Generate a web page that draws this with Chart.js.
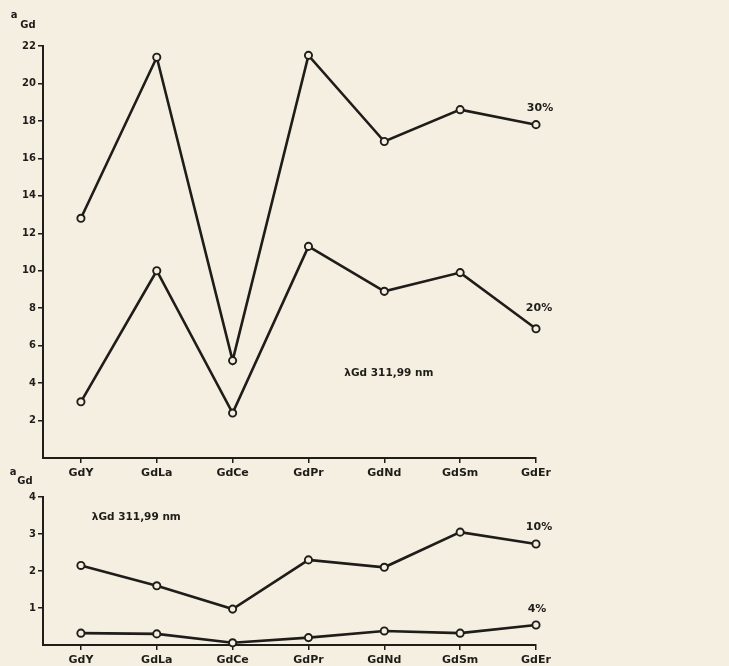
<!DOCTYPE html>
<html>
<head>
<meta charset="utf-8">
<script src="https://cdn.jsdelivr.net/npm/chart.js@4.4.1/dist/chart.umd.min.js"></script>
<style>
  html, body { margin: 0; padding: 0; background: #f4efe0; }
  #wrap { position: relative; width: 729px; height: 666px; overflow: hidden; }
  canvas { position: absolute; left: 0; }
  #chart-top { top: 0; }
  #chart-low { top: 462px; }
</style>
</head>
<body>
<div id="wrap">
  <canvas id="chart-top" width="729" height="480"></canvas>
  <canvas id="chart-low" width="729" height="204"></canvas>
</div>
<script>
// dane: a_Gd dla mieszanin Gd z pierwiastkami ziem rzadkich
const compounds = ["GdY", "GdLa", "GdCe", "GdPr", "GdNd", "GdSm", "GdEr"];
const top30 = [12.8, 21.4, 5.2, 21.5, 16.9, 18.6, 17.8];
const top20 = [3.0, 10.0, 2.4, 11.3, 8.9, 9.9, 6.9];
const low10 = [2.15, 1.6, 0.97, 2.3, 2.1, 3.05, 2.73];
const low4 = [0.32, 0.3, 0.06, 0.2, 0.38, 0.32, 0.54];
const topTicks = [2, 4, 6, 8, 10, 12, 14, 16, 18, 20, 22];
const lowTicks = [1, 2, 3, 4];

const INK = "#1f1d1a";
const PAPER = "#f4efe0";
const FONT = "'DejaVu Sans', sans-serif";

function series(values) {
    return {
        data: values.map((v, i) => ({ x: i, y: v })),
        borderColor: INK,
        borderWidth: 2.6,
        pointRadius: 3.6,
        pointBorderWidth: 1.9,
        pointBorderColor: INK,
        pointBackgroundColor: PAPER,
        tension: 0,
        clip: false,
    };
}

// podpisy: pozycja w jednostkach danych + przesunięcie w px
const notesPlugin = {
    id: "notes",
    afterDraw(chart, args, opts) {
        const { ctx, scales } = chart;
        ctx.save();
        ctx.fillStyle = INK;
        ctx.textBaseline = "middle";
        (opts.items || []).forEach(n => {
            ctx.font = `bold ${n.size || 11}px ${FONT}`;
            ctx.textAlign = n.align || "center";
            const px = n.abs ? n.x : scales.x.getPixelForValue(n.x) + (n.dx || 0);
            const py = n.abs ? n.y : scales.y.getPixelForValue(n.y) + (n.dy || 0);
            ctx.fillText(n.text, px, py);
        });
        ctx.restore();
    },
};

function makeChart(id, sets, yMax, yTicks, pad, xHeight, tickPad, notes) {
    const ctx = document.getElementById(id).getContext("2d");
    return new Chart(ctx, {
        type: "line",
        data: { datasets: sets.map(series) },
        plugins: [notesPlugin],
        options: {
            responsive: false,
            animation: false,
            layout: { padding: { top: pad.top, right: pad.right, left: 0, bottom: 0 } },
            plugins: { legend: { display: false }, tooltip: { enabled: false }, notes: { items: notes } },
            scales: {
                x: {
                    type: "linear", min: -0.5, max: compounds.length - 1,
                    afterBuildTicks: s => { s.ticks = compounds.map((_, i) => ({ value: i })); },
                    afterFit: s => { s.height = xHeight; },
                    border: { display: true, color: INK, width: 2 },
                    grid: { drawOnChartArea: false, drawTicks: true, tickLength: 5, color: INK, lineWidth: 1.5 },
                    ticks: {
                        callback: v => compounds[v] || "",
                        color: INK, padding: tickPad, maxRotation: 0, autoSkip: false,
                        font: { family: FONT, size: 11, weight: "bold" },
                    },
                },
                y: {
                    min: 0, max: yMax,
                    afterBuildTicks: s => { s.ticks = yTicks.map(v => ({ value: v })); },
                    afterFit: s => { s.width = 43; },
                    border: { display: true, color: INK, width: 2 },
                    grid: { drawOnChartArea: false, drawTicks: true, tickLength: 5, color: INK, lineWidth: 1.5 },
                    ticks: {
                        color: INK, padding: 2,
                        font: { family: FONT, size: 10, weight: "bold" },
                    },
                },
            },
        },
    });
}

makeChart("chart-top", [top30, top20], 22, topTicks, { top: 46, right: 193 }, 22, 4, [
    { text: "a", x: 14, y: 15, abs: true, size: 10 },
    { text: "Gd", x: 28, y: 25, abs: true, size: 10 },
    { text: "30%", x: 6, y: top30[6], dx: 4, dy: -17 },
    { text: "20%", x: 6, y: top20[6], dx: 3, dy: -21 },
    { text: "λGd 311,99 nm", x: 4.06, y: 4.5, size: 10.5 },
]);

makeChart("chart-low", [low10, low4], 4, lowTicks, { top: 35, right: 193 }, 21, 4, [
    { text: "a", x: 13, y: 10, abs: true, size: 10 },
    { text: "Gd", x: 25, y: 19, abs: true, size: 10 },
    { text: "10%", x: 6, y: low10[6], dx: 3, dy: -17 },
    { text: "4%", x: 6, y: low4[6], dx: 1, dy: -16 },
    { text: "λGd 311,99 nm", x: 0.73, y: 3.46, size: 10.5 },
]);
</script>
</body>
</html>
